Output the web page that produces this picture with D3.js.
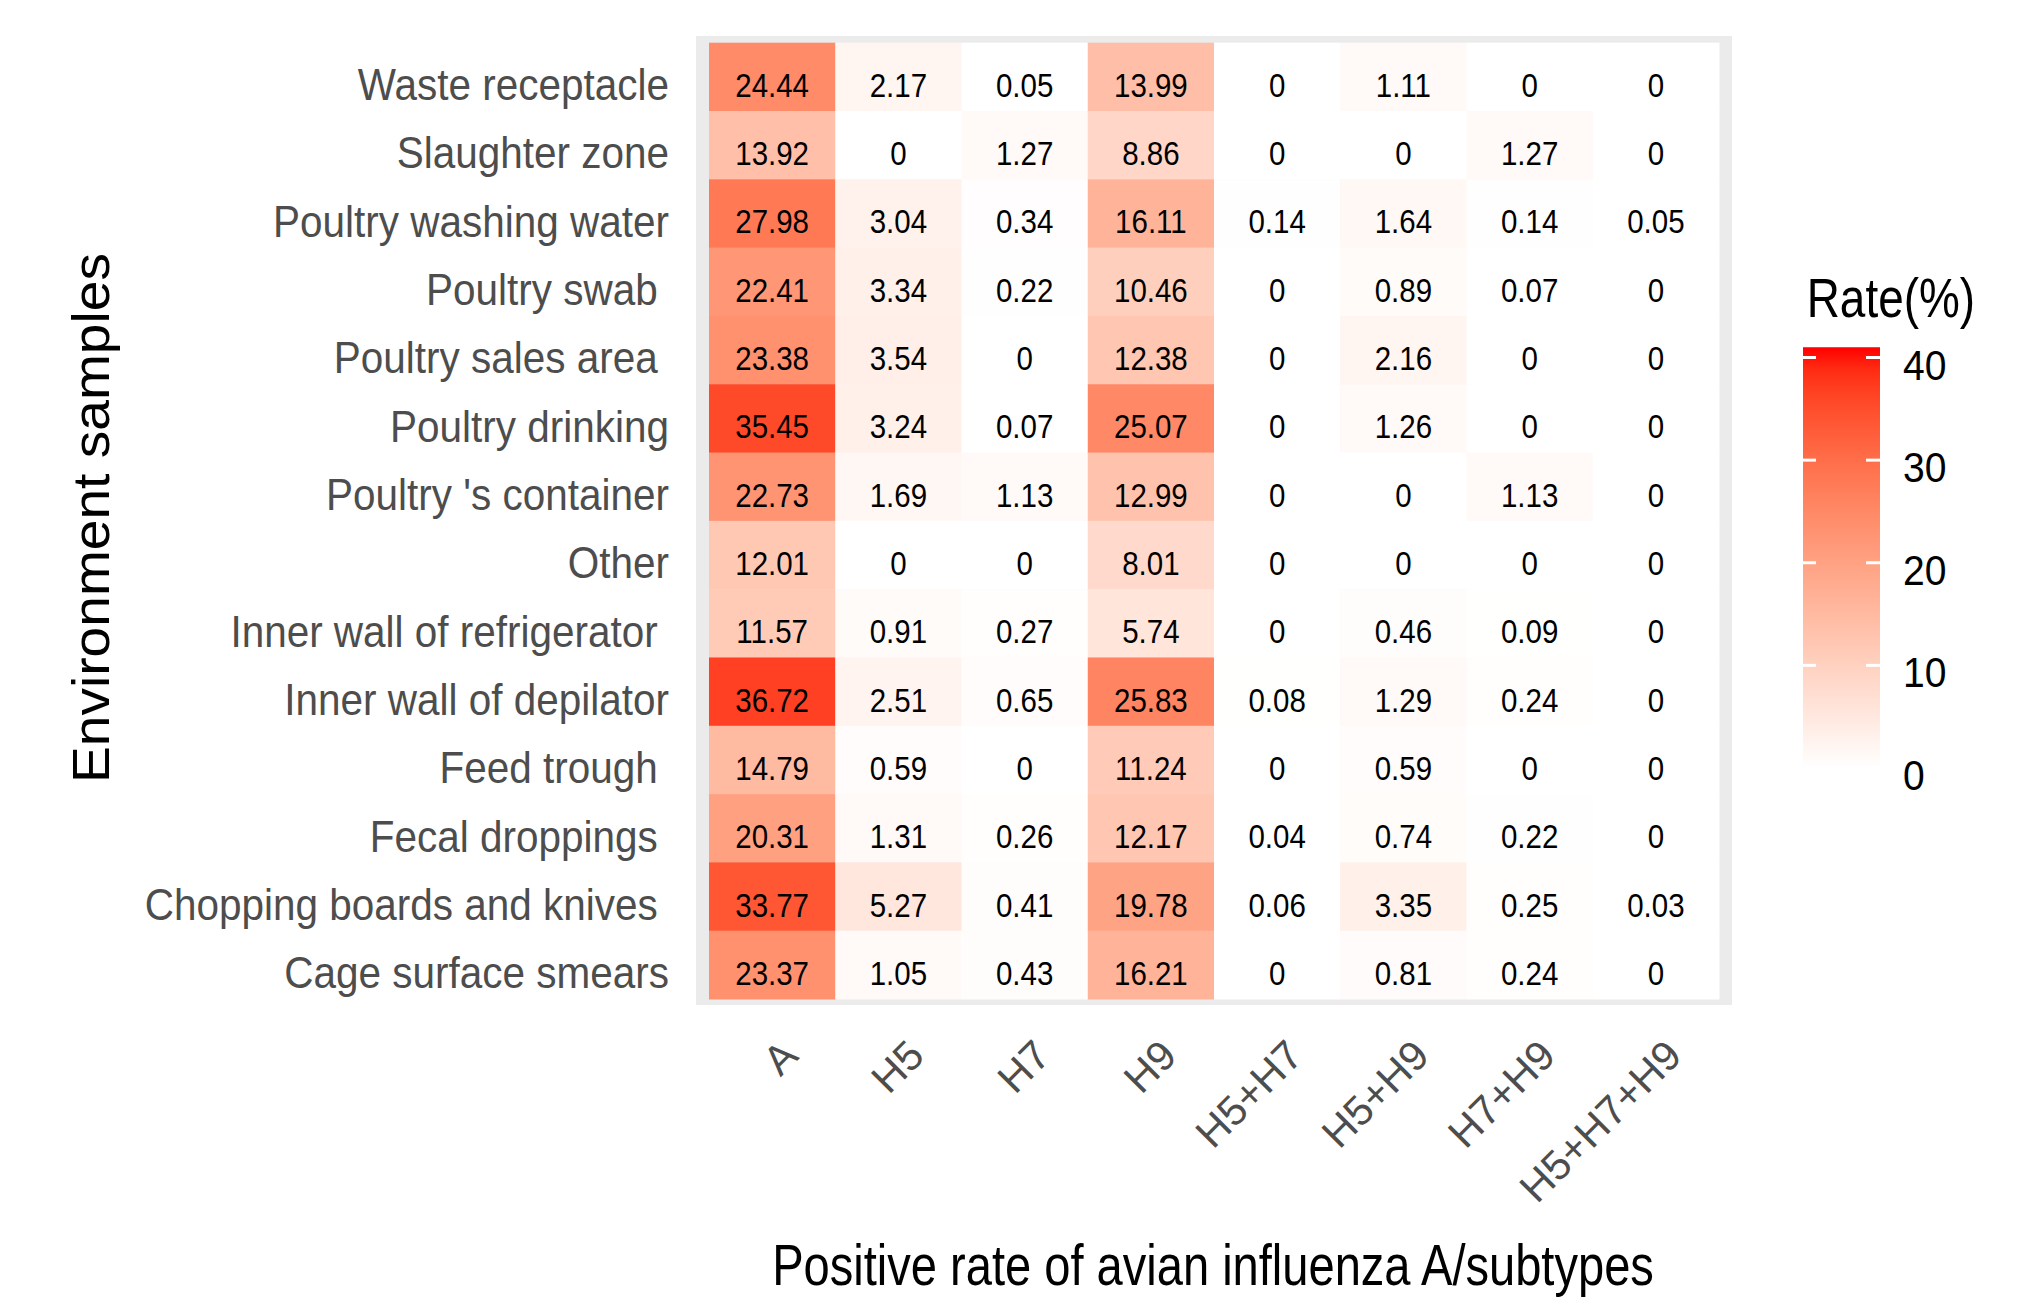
<!DOCTYPE html>
<html>
<head>
<meta charset="utf-8">
<script src="https://cdn.jsdelivr.net/npm/d3@7"></script>
<style>
  html, body { margin: 0; padding: 0; background: #fff; }
  text { font-family: "Liberation Sans", Arial, sans-serif; white-space: pre; }
</style>
</head>
<body>
<svg id="chart" width="2030" height="1297"></svg>
<script>
// rows, top to bottom (trailing spaces are in the original labels)
const samples = [
  'Waste receptacle', 'Slaughter zone', 'Poultry washing water', 'Poultry swab ',
  'Poultry sales area ', 'Poultry drinking', "Poultry 's container", 'Other',
  'Inner wall of refrigerator ', 'Inner wall of depilator', 'Feed trough ',
  'Fecal droppings ', 'Chopping boards and knives ', 'Cage surface smears'
]
const subtypes = ['A', 'H5', 'H7', 'H9', 'H5+H7', 'H5+H9', 'H7+H9', 'H5+H7+H9']

// positive rate (%) per subtype, in the row order above
const rateA = [24.44, 13.92, 27.98, 22.41, 23.38, 35.45, 22.73, 12.01, 11.57, 36.72, 14.79, 20.31, 33.77, 23.37]
const rateH5 = [2.17, 0, 3.04, 3.34, 3.54, 3.24, 1.69, 0, 0.91, 2.51, 0.59, 1.31, 5.27, 1.05]
const rateH7 = [0.05, 1.27, 0.34, 0.22, 0, 0.07, 1.13, 0, 0.27, 0.65, 0, 0.26, 0.41, 0.43]
const rateH9 = [13.99, 8.86, 16.11, 10.46, 12.38, 25.07, 12.99, 8.01, 5.74, 25.83, 11.24, 12.17, 19.78, 16.21]
const rateH5H7 = [0, 0, 0.14, 0, 0, 0, 0, 0, 0, 0.08, 0, 0.04, 0.06, 0]
const rateH5H9 = [1.11, 0, 1.64, 0.89, 2.16, 1.26, 0, 0, 0.46, 1.29, 0.59, 0.74, 3.35, 0.81]
const rateH7H9 = [0, 1.27, 0.14, 0.07, 0, 0, 1.13, 0, 0.09, 0.24, 0, 0.22, 0.25, 0.24]
const rateH5H7H9 = [0, 0, 0.05, 0, 0, 0, 0, 0, 0, 0, 0, 0, 0.03, 0]

const legendTicks = [0, 10, 20, 30, 40]
const legendMax = 41

const series = [rateA, rateH5, rateH7, rateH9, rateH5H7, rateH5H9, rateH7H9, rateH5H7H9]
const cells = []
series.forEach((vals, j) => {
  vals.forEach((v, i) => cells.push({ sample: samples[i], subtype: subtypes[j], value: v }))
})

const svg = d3.select('#chart')

const x = d3.scaleBand().domain(subtypes).range([709, 1719])
const y = d3.scaleBand().domain(samples).range([42.7, 999])
const color = d3.scaleLinear().domain([0, legendMax]).range(['#ffffff', '#ff0000'])
  .interpolate(d3.interpolateLab)

// panel background (shows as a grey frame round the tiles)
svg.append('rect')
  .attr('x', 696).attr('y', 36)
  .attr('width', 1036).attr('height', 969)
  .attr('fill', '#ebebeb')

svg.append('g').selectAll('rect')
  .data(cells)
  .join('rect')
  .attr('x', d => x(d.subtype))
  .attr('y', d => y(d.sample))
  .attr('width', x.bandwidth() + 0.5)
  .attr('height', y.bandwidth() + 0.5)
  .attr('fill', d => color(d.value))

svg.append('g').selectAll('text')
  .data(cells)
  .join('text')
  .attr('transform', d => `translate(${x(d.subtype) + x.bandwidth() / 2},${y(d.sample) + y.bandwidth() / 2 + 20}) scale(0.88,1)`)
  .attr('text-anchor', 'middle')
  .attr('font-size', 33.5)
  .attr('fill', '#000')
  .text(d => d.value)

// y axis labels
svg.append('g').selectAll('text')
  .data(samples)
  .join('text')
  .attr('transform', d => `translate(669,${y(d) + y.bandwidth() / 2 + 23.3}) scale(0.92,1)`)
  .attr('text-anchor', 'end')
  .attr('font-size', 44)
  .attr('fill', '#4d4d4d')
  .text(d => d)

// x axis labels, rotated
svg.append('g').selectAll('text')
  .data(subtypes)
  .join('text')
  .attr('transform', d => `translate(${x(d) + x.bandwidth() / 2 + 28},1058) rotate(-45)`)
  .attr('text-anchor', 'end')
  .attr('font-size', 41.5)
  .attr('fill', '#4d4d4d')
  .text(d => d)

// axis titles
svg.append('text')
  .attr('transform', 'translate(1213,1285) scale(0.816,1)')
  .attr('text-anchor', 'middle')
  .attr('font-size', 57.7)
  .attr('fill', '#000')
  .text('Positive rate of avian influenza A/subtypes')

svg.append('text')
  .attr('transform', 'translate(109,518) rotate(-90) scale(1.06,1)')
  .attr('text-anchor', 'middle')
  .attr('font-size', 52)
  .attr('fill', '#000')
  .text('Environment samples')

// legend
const ly = d3.scaleLinear().domain([0, 40]).range([768, 357.5])
const defs = svg.append('defs')
const grad = defs.append('linearGradient')
  .attr('id', 'rateGrad')
  .attr('x1', 0).attr('y1', 1).attr('x2', 0).attr('y2', 0)
grad.selectAll('stop')
  .data(d3.range(0, 21))
  .join('stop')
  .attr('offset', d => d / 20)
  .attr('stop-color', d => color(d / 20 * legendMax))

svg.append('rect')
  .attr('x', 1803).attr('y', ly(legendMax))
  .attr('width', 77).attr('height', ly(0) - ly(legendMax))
  .attr('fill', 'url(#rateGrad)')

const tk = svg.append('g')
tk.selectAll('line.l')
  .data(legendTicks)
  .join('line')
  .attr('class', 'l')
  .attr('x1', 1803).attr('x2', 1816)
  .attr('y1', d => ly(d)).attr('y2', d => ly(d))
  .attr('stroke', '#fff').attr('stroke-width', 3)
tk.selectAll('line.r')
  .data(legendTicks)
  .join('line')
  .attr('class', 'r')
  .attr('x1', 1866).attr('x2', 1880)
  .attr('y1', d => ly(d)).attr('y2', d => ly(d))
  .attr('stroke', '#fff').attr('stroke-width', 3)

svg.append('g').selectAll('text')
  .data(legendTicks)
  .join('text')
  .attr('transform', d => `translate(1903,${ly(d) + 22}) scale(0.93,1)`)
  .attr('font-size', 42)
  .attr('fill', '#000')
  .text(d => d)

svg.append('text')
  .attr('transform', 'translate(1806.7,317) scale(0.82,1)')
  .attr('font-size', 56)
  .attr('fill', '#000')
  .text('Rate(%)')
</script>
</body>
</html>
